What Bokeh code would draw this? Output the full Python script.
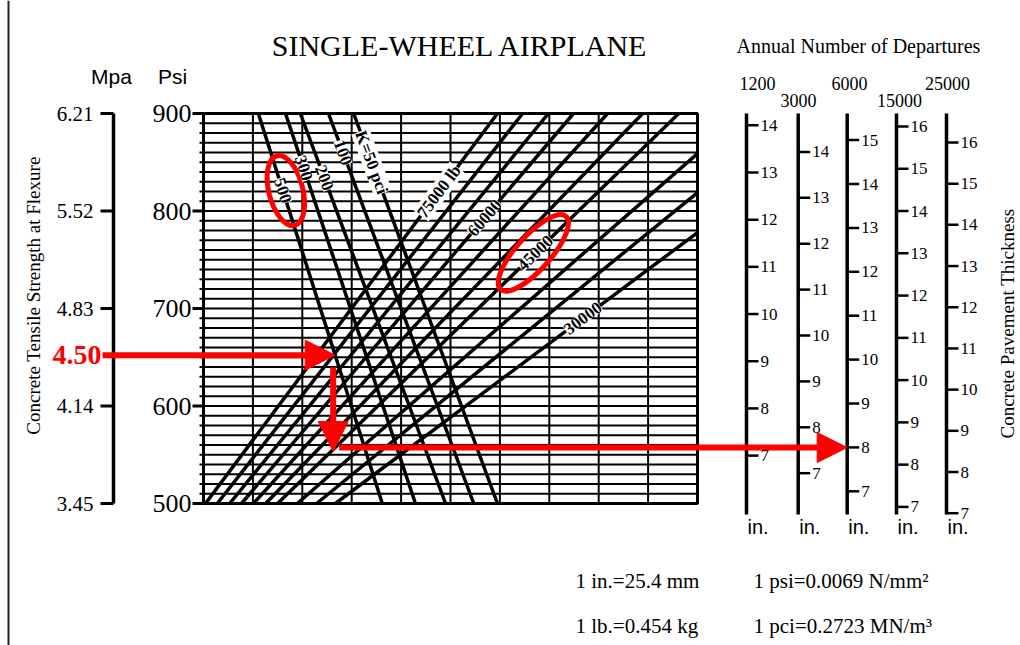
import math
import numpy as np
from bokeh.plotting import figure
from bokeh.models import Range1d, Label, Arrow, NormalHead
from bokeh.core.properties import value
from bokeh.embed import file_html
from bokeh.resources import INLINE

# ---------------- data ----------------
psi_ticks = [500, 600, 700, 800, 900]
mpa_ticks = [3.45, 4.14, 4.83, 5.52, 6.21]
psi_to_mpa = 0.0069
grid_psi_step = 10
grid_columns = 10

k_values = [500, 300, 200, 100, 50]
k_labels = ["500", "300", "200", "100", "K=50 pci"]
k_col_at_900 = [1.11, 1.66, 1.96, 2.53, 3.04]   # column where K curve meets 900 psi
k_col_at_500 = [3.62, 4.29, 4.90, 5.47, 5.95]   # column where K curve meets 500 psi

loads = [75000, 70000, 65000, 60000, 55000, 50000, 45000, 40000, 35000, 30000]
load_col_at_500 = [0.04, 0.28, 0.53, 0.77, 1.01, 1.26, 1.50, 1.90, 2.29, 2.67]
load_col_at_900 = [5.95, 6.46, 6.98, 7.49, 8.18, 8.89, 9.62, 10.93, 11.96, 13.22]
load_labels = {75000: "75000 lb", 60000: "60000", 45000: "45000", 30000: "30000"}

departures = ["1200", "3000", "6000", "15000", "25000"]
thickness_ticks = [
    [7, 8, 9, 10, 11, 12, 13, 14],
    [7, 8, 9, 10, 11, 12, 13, 14],
    [7, 8, 9, 10, 11, 12, 13, 14, 15],
    [7, 8, 9, 10, 11, 12, 13, 14, 15, 16],
    [7, 8, 9, 10, 11, 12, 13, 14, 15, 16],
]

design_mpa = 4.50
design_k = 500
design_load = 45000
design_departures = "6000"

notes_left = ["1 in.=25.4 mm", "1 lb.=0.454 kg"]
notes_right = ["1 psi=0.0069 N/mm\u00b2", "1 pci=0.2723 MN/m\u00b3"]

# ---------------- layout ----------------
SERIF = "Liberation Serif"
SANS = "Liberation Sans"
W, H, OFF = 1020, 645, 0
X0, PXC = 203.0, 49.4        # page x of column 0, px per column
Y500, PXP = 503.0, 0.975     # page y of 500 psi, px per psi


def cx(px):
    return (px - X0) / PXC


def py(pgy):
    return 500 + (Y500 - pgy) / PXP


axis_page_x = [746, 797.7, 846.7, 896, 946]
axis_scale = [(455.1, 47.19), (472.7, 45.9), (490.8, 43.9), (506.4, 42.26), (512.7, 41.19)]
dep_label_pos = [(757, 83), (798, 100), (849, 83), (899, 100), (947, 83)]
k_label_psi = [821, 844, 834, 860, 850]
load_label_psi = {75000: 820, 60000: 793, 45000: 757, 30000: 690}

extra = {"mpa": Range1d(py(OFF + H) * psi_to_mpa, py(OFF) * psi_to_mpa)}
for i, (y7, s) in enumerate(axis_scale):
    extra[f"t{i}"] = Range1d(7 + (y7 - (OFF + H)) / s, 7 + (y7 - OFF) / s)

p = figure(width=W, height=H,
           x_range=Range1d(cx(OFF), cx(OFF + W)),
           y_range=Range1d(py(OFF + H), py(OFF)),
           x_axis_type=None, y_axis_type=None,
           toolbar_location=None, output_backend="svg", min_border=0)
p.extra_y_ranges = extra
p.outline_line_color = None
p.background_fill_color = "white"
p.border_fill_color = "white"

# left page border line
p.segment(x0=cx(8), y0=py(OFF + H), x1=cx(8), y1=py(OFF), line_width=2, color="#222222")

# grid
hp = np.arange(500, 901, grid_psi_step)
p.segment(x0=cx(199), y0=hp, x1=grid_columns, y1=hp, line_width=2, color="black")
vc = np.arange(0, grid_columns + 1)
p.segment(x0=vc, y0=500, x1=vc, y1=900, line_width=2, color="black")
p.quad(left=0, right=grid_columns, bottom=500, top=900, fill_color=None, line_color="black", line_width=3)

# K curves
for ct, cb in zip(k_col_at_900, k_col_at_500):
    p.line([ct, cb], [900, 500], line_width=3.5, color="black")

# load curves
for cb, ct in zip(load_col_at_500, load_col_at_900):
    if ct <= grid_columns:
        xs, ys = [cb, ct], [500, 900]
    else:
        xs, ys = [cb, grid_columns], [500, 500 + 400 * (grid_columns - cb) / (ct - cb)]
    p.line(xs, ys, line_width=3.5, color="black")

# line labels
label_font = dict(text_font=SERIF, text_font_size="17px", text_font_style="bold", text_align="center",
                  text_baseline="middle", background_fill_color="white", text_color="black")
k_label_pos = {}
for i, (ct, cb) in enumerate(zip(k_col_at_900, k_col_at_500)):
    ps = k_label_psi[i]
    x = ct + (900 - ps) / 400 * (cb - ct)
    ang = math.atan2(-400 * PXP, (cb - ct) * PXC)
    k_label_pos[k_values[i]] = (x, ps)
    p.add_layout(Label(x=x, y=ps, text=k_labels[i], angle=ang, **label_font))

load_label_pos = {}
for i, ld in enumerate(loads):
    if ld in load_labels:
        cb, ct = load_col_at_500[i], load_col_at_900[i]
        ps = load_label_psi[ld]
        x = cb + (ps - 500) / 400 * (ct - cb)
        ang = math.atan2(400 * PXP, (ct - cb) * PXC)
        load_label_pos[ld] = (x, ps)
        p.add_layout(Label(x=x, y=ps, text=load_labels[ld], angle=ang, **label_font))

# Mpa axis
mx = cx(113)
p.segment(x0=mx, y0=500, x1=mx, y1=900, line_width=3.5, color="black")
p.segment(x0=cx(100), y0=mpa_ticks, x1=mx, y1=mpa_ticks, y_range_name="mpa", line_width=3, color="black")
p.text(x=cx(93), y=mpa_ticks, text=[f"{v:.2f}" for v in mpa_ticks], y_range_name="mpa",
       text_align="right", text_baseline="middle", text_font=value(SERIF), text_font_size="21px",
       text_color="black")

# Psi axis
p.segment(x0=cx(192), y0=psi_ticks, x1=0, y1=psi_ticks, line_width=3, color="black")
p.text(x=cx(191), y=psi_ticks, text=[str(v) for v in psi_ticks],
       text_align="right", text_baseline="middle", text_font=value(SERIF), text_font_size="26px",
       text_color="black")

p.text(x=[cx(111), cx(172)], y=[py(76), py(76)], text=["Mpa", "Psi"],
       text_align="center", text_baseline="middle", text_font=value(SANS), text_font_size="21px",
       text_color="black")

# thickness axes
for i in range(5):
    ax = cx(axis_page_x[i])
    p.segment(x0=ax, y0=py(113), x1=ax, y1=py(514), line_width=3.5, color="black")
    tv = thickness_ticks[i]
    p.segment(x0=ax, y0=tv, x1=ax + 12 / PXC, y1=tv, y_range_name=f"t{i}", line_width=2.5, color="black")
    p.text(x=ax + 14 / PXC, y=tv, text=[str(t) for t in tv], y_range_name=f"t{i}",
           text_align="left", text_baseline="middle", text_font=value(SERIF), text_font_size="17px",
           text_color="black")

p.text(x=[cx(a + 1) for a in axis_page_x], y=[py(526)] * 5, text=["in."] * 5,
       text_align="left", text_baseline="middle", text_font=value(SANS), text_font_size="20px",
       text_color="black")
p.text(x=[cx(a) for a, b in dep_label_pos], y=[py(b) for a, b in dep_label_pos], text=departures,
       text_align="center", text_baseline="middle", text_font=value(SERIF), text_font_size="18px",
       text_color="black")


# titles
def page_label(px, pgy, text, size, font=SERIF, align="center", angle=0.0, **kw):
    p.add_layout(Label(x=cx(px), y=py(pgy), text=text, text_font=font, text_font_size=size,
                       text_align=align, text_baseline="middle", angle=angle, text_color="black", **kw))


page_label(460, 45, "SINGLE-WHEEL AIRPLANE", "30px")
page_label(858, 45, "Annual Number of Departures", "20px")
page_label(33, 295, "Concrete Tensile Strength at Flexure", "19px", angle=math.pi / 2)
page_label(1007, 323, "Concrete Pavement Thickness", "19px", angle=math.pi / 2)
for j in range(2):
    page_label(575, 580 + 45 * j, notes_left[j], "21px", align="left")
    page_label(753, 580 + 45 * j, notes_right[j], "21px", align="left")

# design example (red)
design_psi = design_mpa / psi_to_mpa
ki = k_values.index(design_k)
x_int = k_col_at_900[ki] + (900 - design_psi) / 400 * (k_col_at_500[ki] - k_col_at_900[ki])
li = loads.index(design_load)
psi2 = 500 + 400 * (x_int - load_col_at_500[li]) / (load_col_at_900[li] - load_col_at_500[li])
di = departures.index(design_departures)

p.add_layout(Label(x=cx(101), y=design_mpa, y_range_name="mpa", text=f"{design_mpa:.2f}",
                   text_font=SERIF, text_font_size="28px", text_font_style="bold",
                   text_color="#ff0000", text_align="right", text_baseline="middle"))


def head():
    return NormalHead(size=30, fill_color="#ff0000", line_color="#ff0000", line_width=1)


p.add_layout(Arrow(x_start=cx(102), y_start=design_psi, x_end=x_int, y_end=design_psi,
                   line_color="#ff0000", line_width=6, end=head()))
p.add_layout(Arrow(x_start=x_int - 2 / PXC, y_start=design_psi - 12 / PXP,
                   x_end=x_int - 2 / PXC, y_end=psi2 - 4 / PXP,
                   line_color="#ff0000", line_width=6, end=head()))
p.add_layout(Arrow(x_start=x_int + 4 / PXC, y_start=psi2, x_end=cx(axis_page_x[di]), y_end=psi2,
                   line_color="#ff0000", line_width=6, end=head()))

ex, ey = k_label_pos[design_k]
lx, ly = load_label_pos[design_load]
p.ellipse(x=[ex + 3 / PXC, lx - 2 / PXC], y=[ey, ly], width=[34, 98], height=[72, 34], angle=[0.25, 0.84],
          width_units="screen", height_units="screen",
          fill_color=None, line_color="#ff0000", line_width=5)

open("out.html", "w").write(file_html(p, INLINE))
